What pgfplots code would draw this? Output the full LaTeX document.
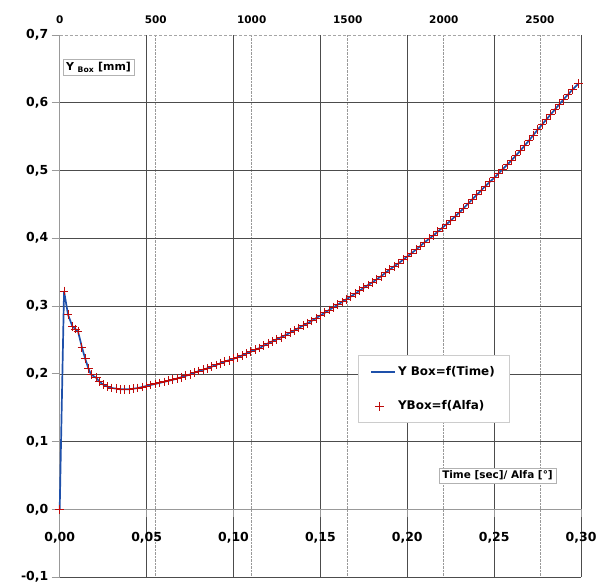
\documentclass[border=0pt]{standalone}
\usepackage{pgfplots}
\usepackage{pgfplotstable}
\pgfplotsset{compat=1.18}
\usepackage{fontspec}
\setmainfont{DejaVu Sans}
\definecolor{lineblue}{RGB}{30,80,170}
\definecolor{markred}{RGB}{190,10,10}
\pgfplotsset{mylinelegend/.style={legend image code/.code={\draw[lineblue, line width=1.7pt] (0cm,0cm) -- (0.85cm,0cm);}}}

\pgfplotstableread{
x y
0 0
0.0025 0.322
0.0048 0.287
0.0073 0.270
0.0090 0.266
0.0105 0.263
0.0128 0.239
0.0147 0.222
0.0165 0.208
0.0180 0.199
0.0210 0.194
0.0230 0.188
0.0250 0.184
0.0275 0.181
0.0300 0.179
0.0325 0.178
0.0350 0.177
0.0375 0.177
0.0400 0.177
0.0425 0.178
0.0450 0.179
0.0475 0.1805
0.0500 0.182
0.0525 0.1835
0.0550 0.185
0.0575 0.1865
0.0600 0.188
0.0625 0.1895
0.0650 0.191
0.0675 0.193
0.0700 0.195
0.0725 0.197
0.0750 0.199
0.0775 0.2015
0.0800 0.204
0.0825 0.206
0.0850 0.208
0.0875 0.2105
0.0900 0.213
0.0925 0.2155
0.0950 0.218
0.0975 0.220
0.1000 0.222
0.1025 0.2245
0.1050 0.227
0.1075 0.230
0.1100 0.233
0.1125 0.2355
0.1150 0.238
0.1175 0.2415
0.1200 0.245
0.1225 0.248
0.1250 0.251
0.1275 0.254
0.1300 0.257
0.1325 0.2605
0.1350 0.264
0.1375 0.2675
0.1400 0.271
0.1425 0.2745
0.1450 0.278
0.1475 0.282
0.1500 0.286
0.1525 0.290
0.1550 0.294
0.1575 0.298
0.1600 0.302
0.1625 0.306
0.1650 0.310
0.1675 0.314
0.1700 0.318
0.1725 0.3225
0.1750 0.327
0.1775 0.331
0.1800 0.335
0.1825 0.3395
0.1850 0.344
0.1875 0.349
0.1900 0.354
0.1925 0.3585
0.1950 0.363
0.1975 0.368
0.2000 0.373
0.2025 0.378
0.2050 0.383
0.2075 0.3885
0.2100 0.394
0.2125 0.399
0.2150 0.404
0.2175 0.4095
0.2200 0.415
0.2225 0.4205
0.2250 0.426
0.2275 0.432
0.2300 0.438
0.2325 0.4445
0.2350 0.451
0.2375 0.4575
0.2400 0.464
0.2425 0.4705
0.2450 0.477
0.2475 0.483
0.2500 0.489
0.2525 0.4955
0.2550 0.502
0.2575 0.5085
0.2600 0.515
0.2625 0.522
0.2650 0.529
0.2675 0.5365
0.2700 0.544
0.2725 0.552
0.2750 0.560
0.2775 0.5675
0.2800 0.575
0.2825 0.5825
0.2850 0.590
0.2875 0.5975
0.2900 0.605
0.2925 0.612
0.2950 0.619
0.2985 0.628
}\ydata

\begin{document}
\begin{tikzpicture}
\useasboundingbox (-60pt,-9pt) rectangle (541pt,580pt);
% top (time) axis with dotted grid
\begin{axis}[
  scale only axis, width=524pt, height=545pt,
  xmin=0, xmax=2715, ymin=-0.1, ymax=0.7,
  axis x line=top, axis y line=none,
  x axis line style={-, draw=gray!70, densely dashed, line width=0.5pt},
  xtick={0,500,1000,1500,2000,2500},
  xmajorgrids,
  major grid style={densely dotted, gray!80, line width=0.6pt},
  major tick length=0pt,
  xticklabel style={font=\fontsize{10.5}{12}\selectfont\bfseries, yshift=8pt},
  /pgf/number format/assume math mode=true,
  /pgf/number format/1000 sep={},
]
\addplot[draw=none, forget plot] coordinates {(0,0)};
\end{axis}
% main axis
\begin{axis}[
  scale only axis, width=524pt, height=545pt,
  xmin=0, xmax=0.3, ymin=-0.1, ymax=0.7,
  axis x line=middle, axis y line=left,
  axis line style={-, draw=gray!80, line width=0.7pt},
  hide obscured x ticks=false, hide obscured y ticks=false,
  xtick={0,0.05,0.1,0.15,0.2,0.25,0.3},
  ytick={-0.1,0,0.1,0.2,0.3,0.4,0.5,0.6},
  extra y ticks={0.7},
  extra y tick style={grid=none},
  grid=major,
  major grid style={gray!60!black, line width=0.5pt},
  tick style={draw=gray!80, line width=0.6pt},
  tick align=outside,
  major tick length=8pt,
  /pgf/number format/assume math mode=true,
  xticklabel style={font=\fontsize{12.5}{14}\selectfont\bfseries, yshift=-12pt,
    /pgf/number format/.cd, fixed, fixed zerofill, precision=2, use comma},
  yticklabel style={font=\fontsize{12.5}{14}\selectfont\bfseries,
    /pgf/number format/.cd, fixed, fixed zerofill, precision=1, use comma},
  clip=false,
  legend style={at={(0.5725,0.409)}, anchor=north west, draw=gray!40, fill=white,
    font=\fontsize{12}{14}\selectfont\bfseries, row sep=20pt,
    inner xsep=12pt, inner ysep=9pt},
  legend cell align=left,
]
\addplot[lineblue, line width=1.7pt, no markers, mylinelegend]
  table[x=x, y=y] {\ydata};
\addlegendentry{Y Box=f(Time)}
\addplot[only marks, mark=+, mark size=4.4pt, markred, mark options={line width=0.9pt}]
  table[x=x, y=y] {\ydata};
\addlegendentry{YBox=f(Alfa)}
\node[draw=gray!60, fill=white, anchor=north west, inner sep=3pt,
  font=\fontsize{11}{13}\selectfont\bfseries] at (rel axis cs:0.006,0.956)
  {Y \textsubscript{Box} [mm]};
\node[draw=gray!60, fill=white, inner sep=3pt,
  font=\fontsize{10.5}{12}\selectfont\bfseries] at (rel axis cs:0.8397,0.187)
  {Time [sec]/ Alfa [°]};
\end{axis}
\end{tikzpicture}
\end{document}
